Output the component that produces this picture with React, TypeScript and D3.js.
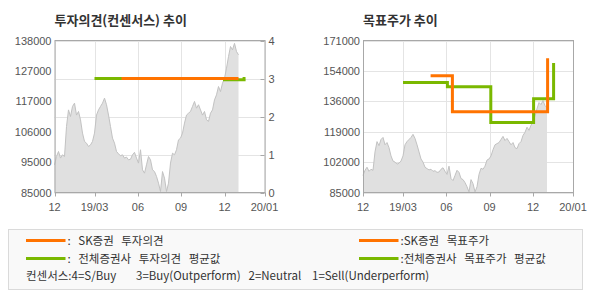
import React from "react";
import * as d3 from "d3";

// ---- data ----
const X_TICK_LABELS = ["12", "19/03", "06", "09", "12", "20/01"];
const X_TICK_IDX = [0, 20, 41.7, 63.3, 85, 105];
const X_DOMAIN = [0, 105];

// closing price (approx, step of ~ 1 index unit)
const PRICE = [
  94650, 97550, 99300, 97000, 98150, 97550, 108000, 113800, 111500, 115000,
  116150, 112000, 113250, 110350, 105700, 102800, 102200, 101050, 101600, 102800,
  105700, 112000, 113800, 115000, 116150, 117900, 115600, 112000, 108000, 103950,
  102200, 99300, 98500, 97800, 98150, 97000, 97350, 96400, 96600, 98150,
  99000, 97000, 95250, 99900, 92900, 91750, 94650, 97550, 96400, 92900,
  92300, 90600, 88250, 85350, 92300, 90000, 85350, 88250, 95250, 98700,
  98150, 99900, 103350, 103950, 105700, 109200, 112000, 112650, 113250, 115000,
  116750, 114400, 115600, 113800, 112000, 113250, 110350, 109800, 112650, 113800,
  117300, 119050, 121950, 120200, 123100, 124850, 128350, 132400, 135900, 134750,
  137000, 134150, 133000,
];

// investment opinion (right axis, 0-4)
const SK_OP_IDX = [33.5, 92];
const SK_OP = [3, 3];
const CONS_OP_IDX = [20, 85, 94.8, 95.5];
const CONS_OP = [3, 2.97, 3, 3];

// target price
const SK_TP_IDX = [33.8, 44.7, 92.3];
const SK_TP = [151000, 130650, 161000];
const CONS_TP_IDX = [20, 42.2, 63.9, 85.3, 95.3];
const CONS_TP = [147200, 144800, 124600, 138000, 158200];

const L_PRICE_LABELS = ["85000", "95000", "106000", "117000", "127000", "138000"];
const L_PRICE_DOMAIN = [85000, 138000];
const L_OP_TICKS = [0, 1, 2, 3, 4];
const R_PRICE_LABELS = ["85000", "102000", "119000", "136000", "154000", "171000"];
const R_PRICE_DOMAIN = [85000, 171000];

const LEGEND_ITEMS = [
  { label: ": SK증권 투자의견", color: "#ff7300" },
  { label: ": 전체증권사 투자의견 평균값", color: "#7ab800" },
  { label: ":SK증권 목표주가", color: "#ff7300" },
  { label: ":전체증권사 목표주가 평균값", color: "#7ab800" },
];
const CONSENSUS_NOTE = ["컨센서스:4=S/Buy", "3=Buy(Outperform)", "2=Neutral", "1=Sell(Underperform)"];

const ORANGE = "#ff7300";
const GREEN = "#7ab800";
const AXIS = "#a8a8a8";
const GRID = "#e4e4e4";
const LABEL = "#555";
const FONT = "'Liberation Sans', Arial, sans-serif";
const KFONT = "'Noto Sans CJK KR', 'Noto Sans', sans-serif";

const TOP = 40.5;
const BOTTOM = 192.5;

function Chart({ x0, x1, title, priceDomain, priceLabels, opinion }: any) {
  const x = d3.scaleLinear().domain(X_DOMAIN).range([x0, x1]);
  const yP = d3.scaleLinear().domain(priceDomain).range([BOTTOM, TOP]);
  const yO = d3.scaleLinear().domain([0, 4]).range([BOTTOM, TOP]);
  const n = priceLabels.length - 1;
  const labelVals = d3.range(n + 1).map((i) => priceDomain[0] + (i * (priceDomain[1] - priceDomain[0])) / n);

  const area = d3
    .area<number>()
    .x((_, i) => x(i))
    .y0(BOTTOM)
    .y1((d) => yP(d));
  const line = d3
    .line<number>()
    .x((_, i) => x(i))
    .y((d) => yP(d));

  const step = (idx: number[], vals: number[], y: any) =>
    d3
      .line<number>()
      .x((_, i) => x(idx[i]))
      .y((d) => y(d))
      .curve(d3.curveStepAfter)(vals) as string;

  const hGrid = opinion ? L_OP_TICKS.map((t) => yO(t)) : labelVals.map((v) => yP(v));

  return (
    <g>
      <text x={x0} y={25} fontFamily={KFONT} fontWeight="bold" fontSize={13} fill="#333">
        {title}
      </text>
      {hGrid.map((gy, i) => (
        <line key={"h" + i} x1={x0} x2={x1} y1={Math.round(gy) + 0.5} y2={Math.round(gy) + 0.5} stroke={GRID} />
      ))}
      {X_TICK_IDX.map((t, i) => (
        <line key={"v" + i} x1={Math.round(x(t)) + 0.5} x2={Math.round(x(t)) + 0.5} y1={TOP} y2={BOTTOM} stroke={GRID} />
      ))}
      <path d={area(PRICE) as string} fill="#e0e0e0" />
      <path d={line(PRICE) as string} fill="none" stroke="#c2c2c2" strokeWidth={1} />
      <rect x={x0 + 0.5} y={TOP} width={x1 - x0} height={BOTTOM - TOP} fill="none" stroke={AXIS} />
      {X_TICK_IDX.map((t, i) => (
        <g key={"xt" + i}>
          <line x1={Math.round(x(t)) + 0.5} x2={Math.round(x(t)) + 0.5} y1={BOTTOM} y2={BOTTOM + 4} stroke={AXIS} />
          <text x={x(t)} y={211} textAnchor="middle" fontFamily={FONT} fontSize={11} fill={LABEL}>
            {X_TICK_LABELS[i]}
          </text>
        </g>
      ))}
      {labelVals.map((v, i) => (
        <text key={"pl" + i} x={x0 - 3} y={yP(v) + 4} textAnchor="end" fontFamily={FONT} fontSize={11} fill={LABEL}>
          {priceLabels[i]}
        </text>
      ))}
      {opinion &&
        L_OP_TICKS.map((t, i) => (
          <g key={"ot" + i}>
            <line x1={x1 - 4} x2={x1} y1={Math.round(yO(t)) + 0.5} y2={Math.round(yO(t)) + 0.5} stroke={AXIS} />
            <text x={x1 + 4} y={yO(t) + 4} fontFamily={FONT} fontSize={11} fill={LABEL}>
              {t}
            </text>
          </g>
        ))}
      {opinion ? (
        <g>
          <path d={step(CONS_OP_IDX, CONS_OP, yO)} fill="none" stroke={GREEN} strokeWidth={3} />
          <path d={step(SK_OP_IDX, SK_OP, yO)} fill="none" stroke={ORANGE} strokeWidth={3} />
        </g>
      ) : (
        <g>
          <path d={step(CONS_TP_IDX, CONS_TP, yP)} fill="none" stroke={GREEN} strokeWidth={3} />
          <path d={step(SK_TP_IDX, SK_TP, yP)} fill="none" stroke={ORANGE} strokeWidth={3} />
        </g>
      )}
    </g>
  );
}

export default function App() {
  const legendPos = [
    { x: 26, y: 240.5 },
    { x: 26, y: 258.5 },
    { x: 359, y: 240.5 },
    { x: 359, y: 258.5 },
  ];
  const notePos = [26, 136, 248.5, 312];
  return (
    <svg width={590} height={300} style={{ position: "absolute", left: 0, top: 0, background: "#fff" }}>
      <rect x={0} y={0} width={590} height={300} fill="#fff" />
      <Chart x0={54.5} x1={264.5} title="투자의견(컨센서스) 추이" priceDomain={L_PRICE_DOMAIN} priceLabels={L_PRICE_LABELS} opinion />
      <Chart x0={363} x1={573} title="목표주가 추이" priceDomain={R_PRICE_DOMAIN} priceLabels={R_PRICE_LABELS} opinion={false} />
      <rect x={8.5} y={229.5} width={574} height={60} fill="#f9f9f9" stroke="#dadada" />
      {LEGEND_ITEMS.map((it, i) => (
        <g key={"lg" + i}>
          <line x1={legendPos[i].x} x2={legendPos[i].x + 39.5} y1={legendPos[i].y} y2={legendPos[i].y} stroke={it.color} strokeWidth={3} />
          <text
            x={legendPos[i].x + 41.5}
            y={legendPos[i].y + 4.5}
            fontFamily={KFONT}
            fontSize={11.5}
            wordSpacing={5}
            fill="#333"
          >
            {it.label}
          </text>
        </g>
      ))}
      {CONSENSUS_NOTE.map((s, i) => (
        <text key={"cn" + i} x={notePos[i]} y={280} fontFamily={KFONT} fontSize={11.5} fill="#333">
          {s}
        </text>
      ))}
    </svg>
  );
}
